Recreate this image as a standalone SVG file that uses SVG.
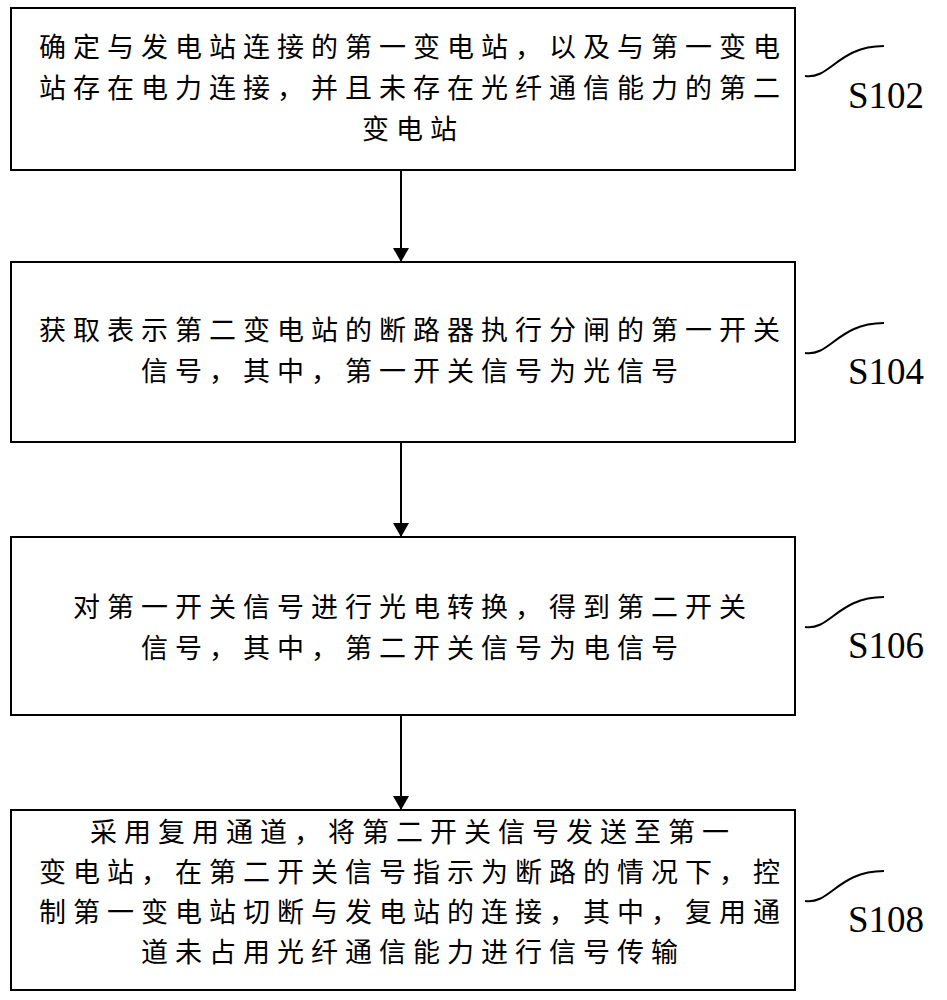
<svg xmlns="http://www.w3.org/2000/svg" width="947" height="1000" viewBox="0 0 947 1000">
<style>
.b{fill:#fff;stroke:#000;stroke-width:2}
.t{font-family:"Noto Sans CJK SC",sans-serif;font-size:27px;letter-spacing:7px;text-anchor:middle;fill:#000}
.s{font-family:"Liberation Serif",serif;font-size:37px;fill:#000}
.c{fill:none;stroke:#000;stroke-width:2}
</style>
<defs><marker id="a" markerWidth="14" markerHeight="16" refX="13" refY="8" orient="auto" markerUnits="userSpaceOnUse"><path d="M0,0 L14,8 L0,16z"/></marker></defs>
<g id="n1"><rect class="b" x="11" y="8" width="784" height="162"/>
<text class="t" x="413" y="57">确定与发电站连接的第一变电站，以及与第一变电</text>
<text class="t" x="413" y="98">站存在电力连接，并且未存在光纤通信能力的第二</text>
<text class="t" x="413" y="139">变电站</text>
<path class="c" d="M805,76 C830,80 838,46 884,46"/><text class="s" x="848" y="108">S102</text></g>
<g id="n2"><rect class="b" x="11" y="262" width="784" height="180"/>
<text class="t" x="413" y="340">获取表示第二变电站的断路器执行分闸的第一开关</text>
<text class="t" x="413" y="381">信号，其中，第一开关信号为光信号</text>
<path class="c" d="M805,353 C830,357 838,323 884,323"/><text class="s" x="848" y="384">S104</text></g>
<g id="n3"><rect class="b" x="11" y="537" width="784" height="178"/>
<text class="t" x="413" y="617">对第一开关信号进行光电转换，得到第二开关</text>
<text class="t" x="413" y="658">信号，其中，第二开关信号为电信号</text>
<path class="c" d="M805,627 C830,631 838,597 884,597"/><text class="s" x="848" y="658">S106</text></g>
<g id="n4"><rect class="b" x="11" y="810" width="784" height="180"/>
<text class="t" x="413" y="842">采用复用通道，将第二开关信号发送至第一</text>
<text class="t" x="413" y="882">变电站，在第二开关信号指示为断路的情况下，控</text>
<text class="t" x="413" y="922">制第一变电站切断与发电站的连接，其中，复用通</text>
<text class="t" x="413" y="962">道未占用光纤通信能力进行信号传输</text>
<path class="c" d="M805,901 C830,905 838,871 884,871"/><text class="s" x="848" y="932">S108</text></g>
<g id="edges">
<line class="c" x1="401" y1="170" x2="401" y2="261" marker-end="url(#a)"/>
<line class="c" x1="401" y1="442" x2="401" y2="536" marker-end="url(#a)"/>
<line class="c" x1="401" y1="715" x2="401" y2="809" marker-end="url(#a)"/>
</g>
</svg>
